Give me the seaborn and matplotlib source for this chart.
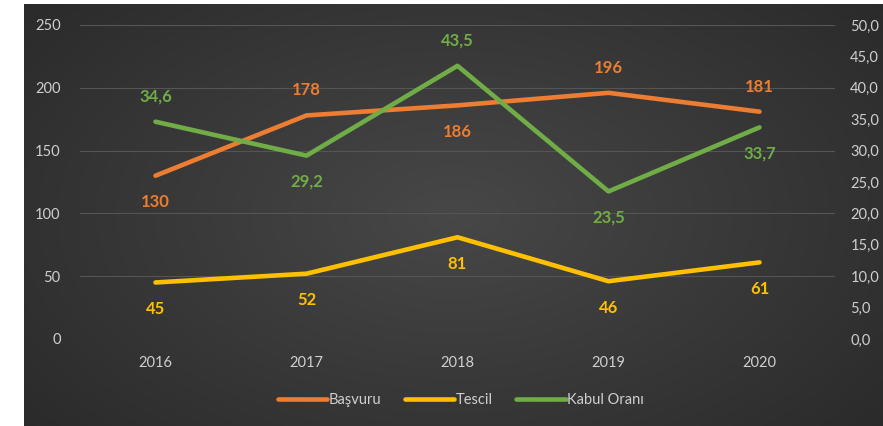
import numpy as np
import matplotlib
matplotlib.use("Agg")
import matplotlib.pyplot as plt
import seaborn as sns
import pandas as pd

years = ["2016", "2017", "2018", "2019", "2020"]
basvuru = [130, 178, 186, 196, 181]
tescil = [45, 52, 81, 46, 61]
kabul = [34.6, 29.2, 43.5, 23.5, 33.7]
basvuru_pos = ["below", "above", "below", "above", "above"]
tescil_pos = ["below", "below", "below", "below", "below"]
kabul_pos = ["above", "below", "above", "below", "below"]
left_ticks = [0, 50, 100, 150, 200, 250]
right_ticks = [0, 5, 10, 15, 20, 25, 30, 35, 40, 45, 50]

sns.set_theme(style="dark")
plt.rcParams['font.family'] = ['Lato', 'DejaVu Sans']

C_OR = "#ED7D31"
C_YE = "#FFC000"
C_GR = "#70AD47"
C_TXT = "#cfcfcf"

W, H = 883, 426
fig = plt.figure(figsize=(W / 100, H / 100), dpi=100)
fig.patch.set_facecolor("white")

# background panel with radial gradient
bx0 = 24 / W
by1 = 1 - 4 / H
bg = fig.add_axes([bx0, 0, 1 - bx0, by1])
yy, xx = np.mgrid[0:1:200j, 0:1:400j]
r = np.sqrt(((xx - 0.5) / 0.75) ** 2 + ((yy - 0.5) / 0.9) ** 2)
img = np.clip(1 - r, 0, 1)
base = 0.15 + 0.13 * img
bg.imshow(np.dstack([base, base, base]), aspect="auto", extent=[0, 1, 0, 1])
bg.set_axis_off()

ax_l = 80 / W
ax_r = 835 / W
ax_b = 1 - 339 / H
ax_t = 1 - 25 / H
ax = fig.add_axes([ax_l, ax_b, ax_r - ax_l, ax_t - ax_b])
ax.set_facecolor("none")
ax2 = ax.twinx()
ax2.set_facecolor("none")

df = pd.DataFrame({"Yıl": years, "Başvuru": basvuru, "Tescil": tescil, "Kabul Oranı": kabul})
x = np.arange(len(years))
df["x"] = x

LW = 3.3
sns.lineplot(data=df, x="x", y="Başvuru", ax=ax, color=C_OR, lw=LW, label="Başvuru", legend=False)
sns.lineplot(data=df, x="x", y="Tescil", ax=ax, color=C_YE, lw=LW, label="Tescil", legend=False)
sns.lineplot(data=df, x="x", y="Kabul Oranı", ax=ax2, color=C_GR, lw=LW, label="Kabul Oranı", legend=False)

ax.set_xlim(-0.5, 4.5)
ax.set_ylim(0, 250)
ax2.set_ylim(0, 50)
ax.set_yticks(left_ticks)
ax2.set_yticks(right_ticks)
ax2.set_yticklabels([f"{v:.1f}".replace(".", ",") for v in right_ticks])
ax.set_xticks(x)
ax.set_xticklabels(years)
ax.set_xlabel("")
ax.set_ylabel("")
ax2.set_ylabel("")

ax.grid(axis="y", color="#555555", lw=0.8)
ax.grid(axis="x", visible=False)
ax2.grid(False)
for a in (ax, ax2):
    for s in a.spines.values():
        s.set_visible(False)
ax.tick_params(axis="both", length=0, colors=C_TXT, labelsize=10.5)
ax.tick_params(axis="y", pad=14)
ax.tick_params(axis="x", pad=12)
ax2.tick_params(axis="y", length=0, colors=C_TXT, labelsize=10.5, pad=11)

def label(a, vals, pos, color, fmt):
    for xi, v, p in zip(x, vals, pos):
        off = 18 if p == "above" else -19
        a.annotate(fmt(v), (xi, v), xytext=(0, off), textcoords="offset points",
                   ha="center", va="center", color=color, fontsize=12, fontweight="bold")

label(ax, basvuru, basvuru_pos, C_OR, lambda v: f"{v}")
label(ax, tescil, tescil_pos, C_YE, lambda v: f"{v}")
label(ax2, kabul, kabul_pos, C_GR, lambda v: f"{v:.1f}".replace(".", ","))

handles = [plt.Line2D([], [], color=c, lw=LW, solid_capstyle="round") for c in (C_OR, C_YE, C_GR)]
leg = fig.legend(handles, ["Başvuru", "Tescil", "Kabul Oranı"], loc="center",
                 bbox_to_anchor=(0.522, 1 - 400 / H), ncol=3, frameon=False,
                 handlelength=3.4, handletextpad=0.1, columnspacing=1.6, fontsize=10.5)
for t in leg.get_texts():
    t.set_color(C_TXT)

fig.savefig("out.png", dpi=100, facecolor=fig.get_facecolor())
